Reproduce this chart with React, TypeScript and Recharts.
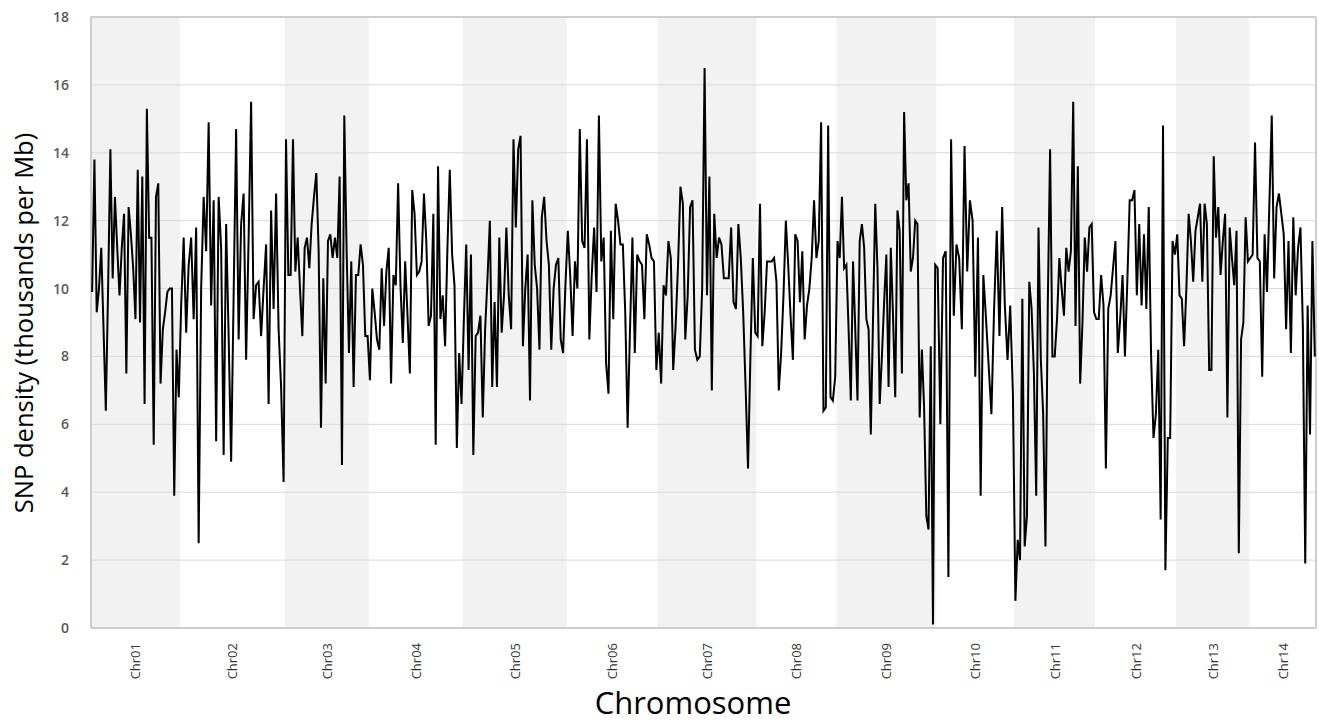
import { LineChart, Line, XAxis, YAxis, ReferenceArea, ReferenceLine } from "recharts";

const chrNames = ["Chr01", "Chr02", "Chr03", "Chr04", "Chr05", "Chr06", "Chr07", "Chr08", "Chr09", "Chr10", "Chr11", "Chr12", "Chr13", "Chr14"];
// relative chromosome lengths (Mb)
const chrSizes = [89, 105, 84, 94, 104, 91, 99, 80, 100, 78, 81, 81, 73, 67];

// SNP density per window, thousands per Mb
const chr01 = [9.9, 13.8, 9.3, 10.0, 11.2, 8.8, 6.4, 10.0, 14.1, 10.3, 12.7, 11.2, 9.8, 11.2, 12.2, 7.5, 12.4, 11.6, 10.6, 9.1, 13.5, 9.0, 13.3, 6.6, 15.3, 11.5, 11.5, 5.4, 12.7, 13.1, 7.2, 8.8, 9.3, 9.9, 10.0, 10.0, 3.9, 8.2, 6.8];
const chr02 = [9.5, 11.5, 8.7, 10.7, 11.5, 9.1, 11.8, 2.5, 10.0, 12.7, 11.1, 14.9, 9.5, 12.6, 5.5, 12.7, 11.2, 5.1, 11.9, 8.6, 4.9, 9.8, 14.7, 8.5, 11.9, 12.8, 7.9, 11.5, 15.5, 9.1, 10.1, 10.2, 8.6, 10.0, 11.3, 6.6, 12.3, 9.4, 12.8, 8.8, 7.1, 4.3];
const chr03 = [14.4, 10.4, 10.4, 14.4, 10.5, 11.5, 10.0, 8.6, 11.2, 11.5, 10.6, 11.9, 12.7, 13.4, 11.1, 5.9, 10.3, 7.2, 11.4, 11.6, 10.9, 11.5, 10.9, 13.3, 4.8, 15.1, 11.1, 8.1, 10.8, 7.1, 10.4, 10.4, 11.3, 10.7, 8.6, 8.6];
const chr04 = [7.3, 10.0, 9.3, 8.5, 8.2, 10.6, 8.9, 10.5, 11.2, 7.2, 10.4, 10.1, 13.1, 10.1, 8.4, 10.8, 9.2, 7.5, 12.9, 12.2, 10.4, 10.5, 10.8, 12.8, 11.4, 8.9, 9.2, 12.2, 5.4, 13.6, 9.1, 9.8, 8.3, 11.2, 13.5, 11.0, 10.1, 5.3, 8.1, 6.6];
const chr05 = [9.1, 11.3, 7.6, 11.0, 5.1, 8.6, 8.7, 9.2, 6.2, 8.8, 10.3, 12.0, 7.1, 9.6, 7.1, 11.5, 8.7, 9.8, 11.8, 9.8, 8.8, 14.4, 11.8, 14.1, 14.5, 8.3, 10.0, 11.0, 6.7, 12.6, 10.7, 10.0, 8.2, 12.1, 12.7, 11.4, 10.7, 8.2, 10.0, 10.7, 10.9, 8.5, 8.1, 10.1];
const chr06 = [11.7, 10.4, 8.6, 10.8, 10.0, 14.7, 11.4, 11.2, 14.4, 8.5, 10.4, 11.8, 9.9, 15.1, 10.8, 11.5, 7.8, 6.9, 11.7, 9.1, 12.5, 12.0, 11.3, 11.3, 9.3, 5.9, 8.8, 11.5, 8.1, 11.0, 10.8, 10.7, 9.1, 11.6, 11.3, 10.9, 10.8, 7.6];
const chr07 = [8.7, 7.2, 10.1, 9.8, 11.4, 10.9, 7.6, 8.9, 10.7, 13.0, 12.5, 8.5, 9.8, 12.4, 12.6, 8.2, 7.9, 8.0, 10.0, 16.5, 9.8, 13.3, 7.0, 12.2, 10.9, 11.5, 11.3, 10.3, 10.3, 10.3, 11.8, 9.6, 9.4, 11.9, 10.9, 9.3, 7.1, 4.7, 8.0, 10.9, 8.7];
const chr08 = [8.6, 12.5, 8.3, 9.3, 10.8, 10.8, 10.8, 10.9, 10.2, 7.0, 8.1, 9.8, 12.0, 10.7, 9.2, 7.9, 11.6, 11.4, 9.6, 11.1, 8.5, 9.5, 10.0, 10.9, 12.6, 10.9, 11.4, 14.9, 6.4, 6.5, 14.8, 6.8, 6.7, 7.4];
const chr09 = [11.4, 10.9, 12.7, 10.6, 10.7, 8.8, 6.7, 10.8, 8.8, 6.7, 11.4, 11.9, 11.2, 9.1, 8.8, 5.7, 9.1, 12.5, 10.6, 6.6, 8.0, 9.6, 11.0, 7.1, 11.2, 9.2, 6.8, 12.3, 11.7, 7.5, 15.2, 12.6, 13.1, 10.5, 10.9, 12.0, 11.9, 6.2, 8.2, 6.5, 3.3, 2.9, 8.3, 0.1, 10.7];
const chr10 = [10.6, 6.0, 10.9, 11.1, 1.5, 14.4, 9.2, 11.3, 10.9, 8.8, 14.2, 10.5, 12.6, 12.0, 7.4, 11.5, 3.9, 10.4, 9.1, 7.7, 6.3, 9.4, 11.7, 8.6, 12.4, 9.5, 7.9, 9.5, 6.9];
const chr11 = [0.8, 2.6, 2.0, 9.7, 2.4, 3.3, 10.2, 9.4, 7.5, 3.9, 11.8, 7.9, 6.3, 2.4, 9.5, 14.1, 8.0, 8.0, 9.1, 10.9, 10.0, 9.2, 11.2, 10.5, 11.1, 15.5, 8.9, 13.6, 7.2, 9.0, 11.5, 10.5, 11.8, 11.9, 9.3];
const chr12 = [9.1, 9.1, 10.4, 9.5, 4.7, 9.4, 9.8, 10.6, 11.4, 8.1, 9.1, 10.4, 8.0, 10.2, 12.6, 12.6, 12.9, 9.8, 11.9, 9.5, 11.6, 9.4, 12.4, 8.0, 5.6, 6.3, 8.2, 3.2, 14.8, 1.7, 5.6, 5.6, 11.4, 11.0];
const chr13 = [11.6, 9.8, 9.7, 8.3, 10.0, 12.2, 11.4, 10.2, 11.7, 12.1, 12.5, 10.2, 12.5, 11.9, 7.6, 7.6, 13.9, 11.5, 12.4, 10.4, 11.4, 12.2, 6.2, 11.8, 10.9, 10.1, 11.7, 2.2, 8.5, 9.0, 12.1, 10.8];
const chr14 = [10.9, 11.0, 14.3, 10.9, 10.8, 7.4, 11.6, 9.9, 12.5, 15.1, 10.3, 12.4, 12.8, 12.2, 11.6, 8.8, 11.4, 8.1, 12.1, 9.8, 11.2, 11.8, 8.9, 1.9, 9.5, 5.7, 11.4, 8.0];

const yTicks = [0, 2, 4, 6, 8, 10, 12, 14, 16, 18];

const chrValues = [chr01, chr02, chr03, chr04, chr05, chr06, chr07, chr08, chr09, chr10, chr11, chr12, chr13, chr14];

const chrStarts: number[] = [];
const data: { pos: number; density: number }[] = [];
let acc = 0;
chrValues.forEach((vals, k) => {
  chrStarts.push(acc);
  const step = chrSizes[k] / vals.length;
  vals.forEach((v, i) => data.push({ pos: acc + (i + 0.5) * step, density: v }));
  acc += chrSizes[k];
});
const total = acc;
const chrCenters = chrStarts.map((s, k) => s + chrSizes[k] / 2);

const FONT = "'Open Sans', sans-serif";

const ChrTick = (props: any) => {
  const { x, y, payload } = props;
  const idx = chrCenters.indexOf(payload.value);
  const ty = y + 7;
  return (
    <text x={x} y={ty} transform={`rotate(-90 ${x} ${ty})`} textAnchor="end" dominantBaseline="central" fontSize={13} fill="#333" fontFamily={FONT}>
      {chrNames[idx]}
    </text>
  );
};

export default function App() {
  return (
    <div style={{ position: "absolute", left: 0, top: 0, width: 1319, height: 726, background: "#fff" }}>
      <LineChart width={1319} height={726} data={data} margin={{ top: 17, right: 3, left: 31, bottom: 38 }}>
        <XAxis
          dataKey="pos"
          type="number"
          domain={[0, total]}
          ticks={chrCenters}
          interval={0}
          axisLine={false}
          tickLine={false}
          tick={<ChrTick />}
          height={60}
        />
        <YAxis
          domain={[0, 18]}
          ticks={yTicks}
          axisLine={false}
          tickLine={false}
          width={60}
          tickMargin={16}
          tick={{ fontSize: 14, fill: "#595959", fontFamily: FONT, fontWeight: 600 }}
        />
        {chrStarts.map((s, k) =>
          k % 2 === 0 ? <ReferenceArea key={k} x1={s} x2={s + chrSizes[k]} y1={0} y2={18} fill="#f2f2f2" fillOpacity={1} stroke="none" /> : null
        )}
        {yTicks.slice(1, -1).map((t) => (
          <ReferenceLine key={t} y={t} stroke="#d9d9d9" strokeWidth={1} />
        ))}
        <ReferenceLine y={0} stroke="#bfbfbf" strokeWidth={1.5} />
        <ReferenceLine y={18} stroke="#bfbfbf" strokeWidth={1.5} />
        <ReferenceLine x={0} stroke="#bfbfbf" strokeWidth={1.5} />
        <ReferenceLine x={total} stroke="#bfbfbf" strokeWidth={1.5} />
        <Line type="linear" dataKey="density" stroke="#000" strokeWidth={2} dot={false} isAnimationActive={false} />
      </LineChart>
      <div
        style={{
          position: "absolute",
          left: 23,
          top: 323,
          transform: "translate(-50%, -50%) rotate(-90deg)",
          whiteSpace: "nowrap",
          fontFamily: FONT,
          fontSize: 25.5,
          color: "#000",
        }}
      >
        SNP density (thousands per Mb)
      </div>
      <div
        style={{
          position: "absolute",
          left: 693,
          top: 702,
          transform: "translate(-50%, -50%)",
          whiteSpace: "nowrap",
          fontFamily: FONT,
          fontSize: 31,
          color: "#000",
        }}
      >
        Chromosome
      </div>
    </div>
  );
}
